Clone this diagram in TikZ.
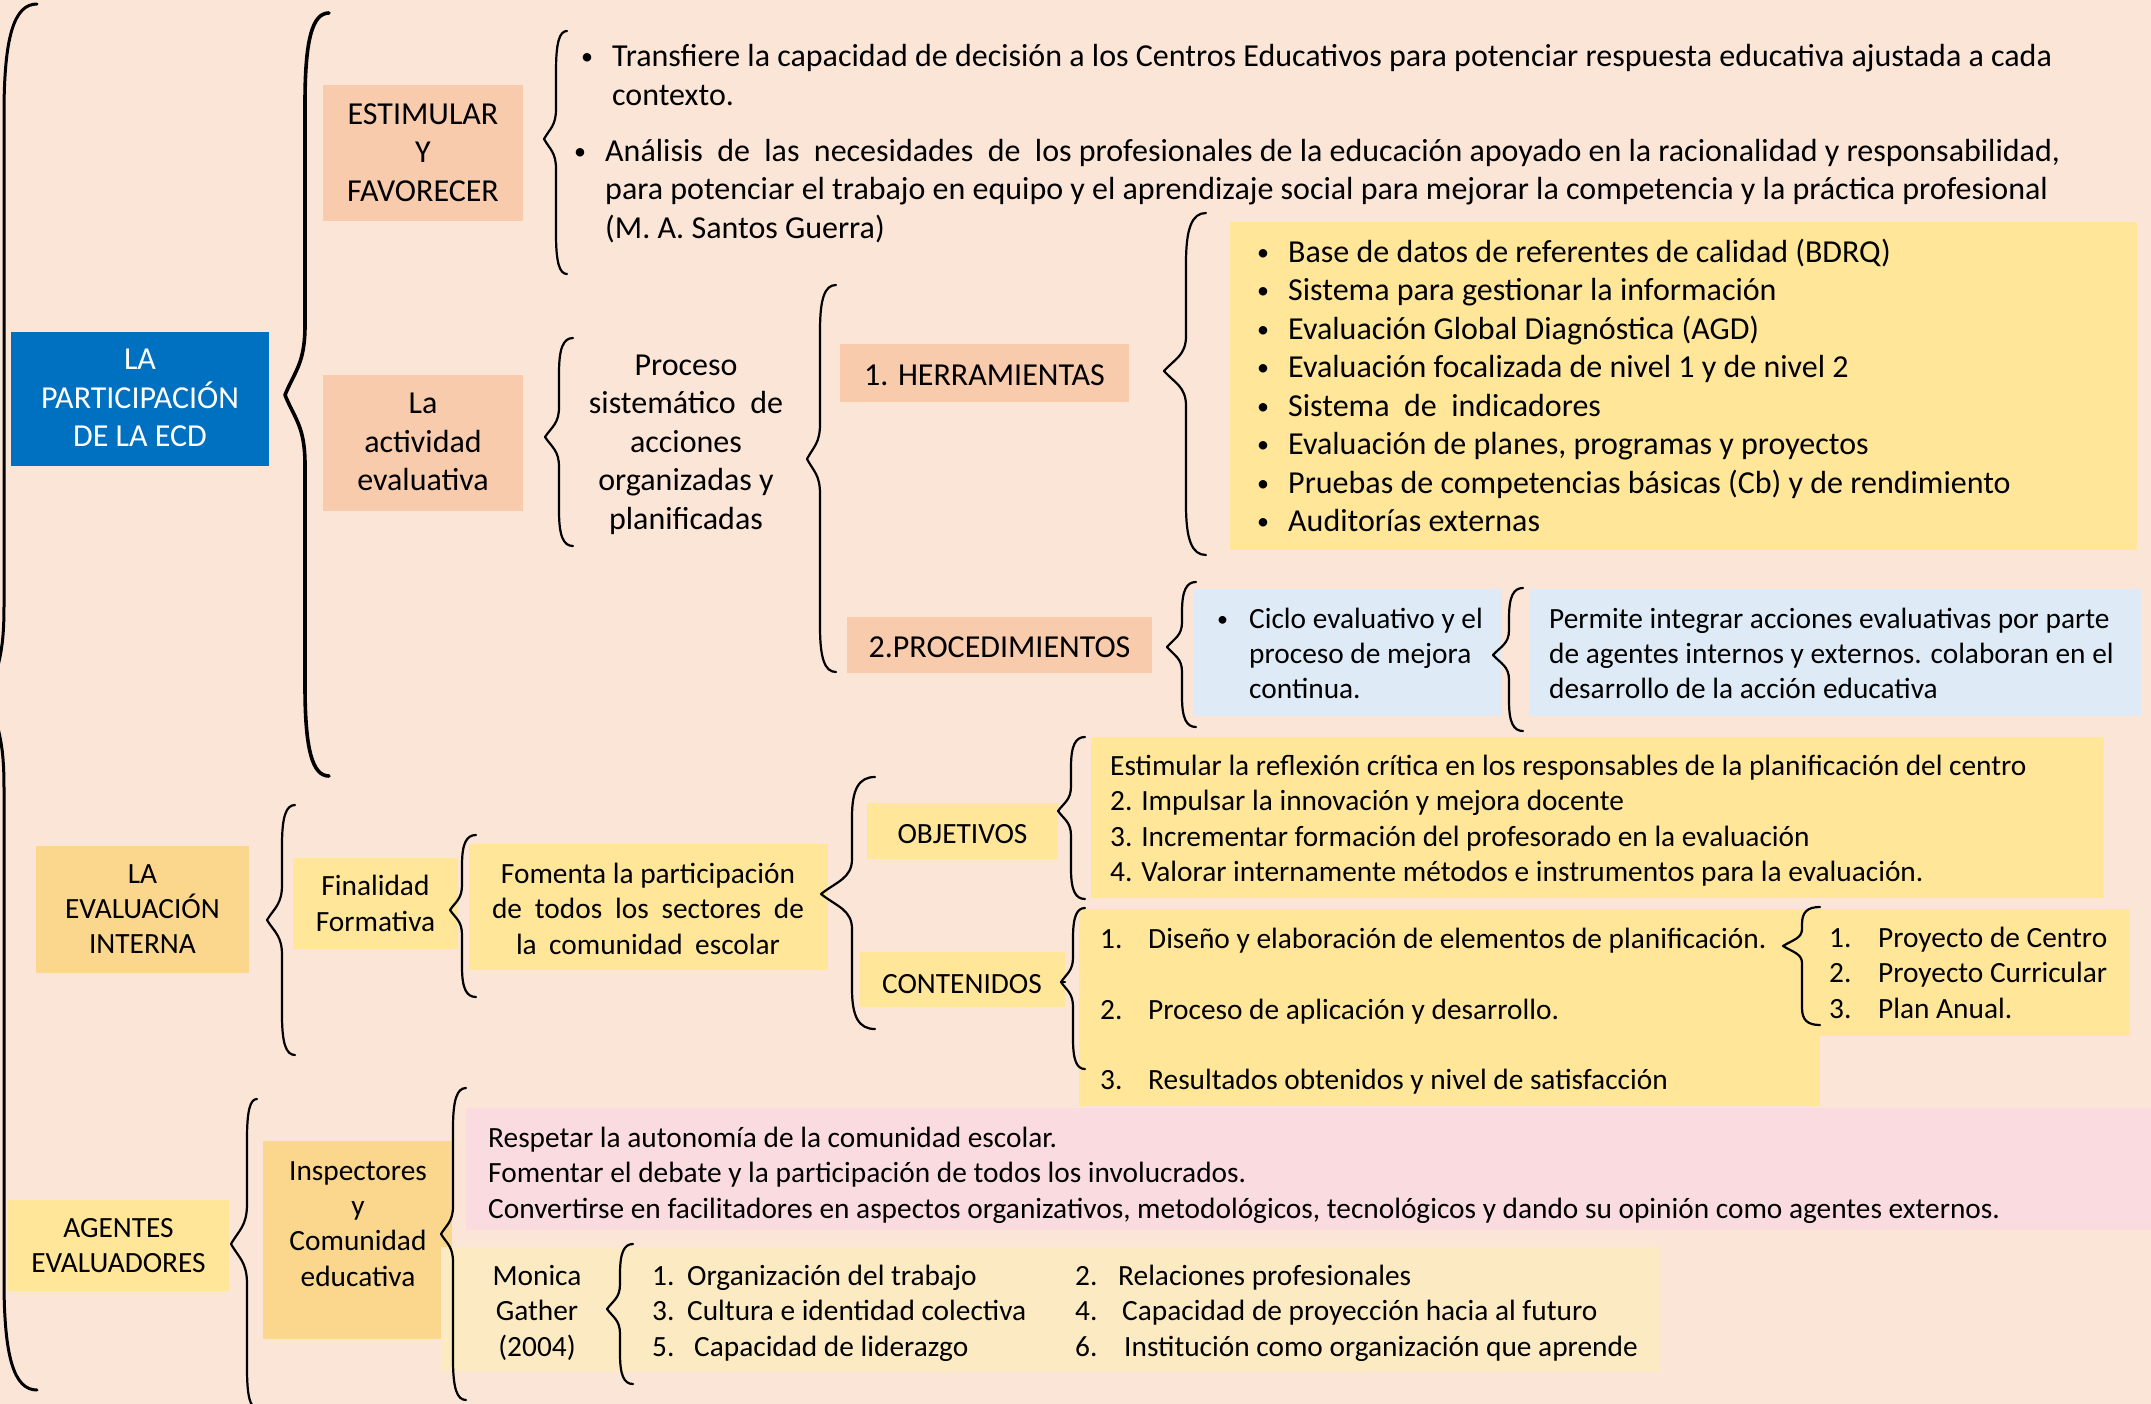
\documentclass[tikz,border=0pt]{standalone}
\usepackage{fontspec}
\usepackage{graphicx}
\setmainfont{Carlito}
\definecolor{bg}{HTML}{FBE5D6}
\definecolor{peach}{HTML}{F8CBAD}
\definecolor{blueD}{HTML}{0070C0}
\definecolor{yel}{HTML}{FFE699}
\definecolor{gold}{HTML}{FBD78E}
\definecolor{lblue}{HTML}{DEEBF7}
\definecolor{pinkb}{HTML}{FADBE0}
\definecolor{cream}{HTML}{FCEBC2}
\newcommand\FontL{\fontsize{32pt}{38.5pt}\selectfont}
\newcommand\FontS{\fontsize{29.35pt}{35.3pt}\selectfont}
\newcommand\bdot{\raisebox{2pt}{\scalebox{0.75}{•}}}
\newcommand\bulL{\makebox[31pt][l]{\bdot}}
\newcommand\bulS{\makebox[32pt][l]{\bdot}}
\newcommand\numb[2]{\makebox[#1pt][l]{#2}}
% brace: [opts]{x ends}{x straight}{x tip}{y top}{y tip}{y bottom}{end curve}{tip curve}
\newcommand\cbr[9][]{%
  \pgfmathsetmacro\bxr{#2}\pgfmathsetmacro\bxm{#3}\pgfmathsetmacro\bxt{#4}%
  \pgfmathsetmacro\byt{#5}\pgfmathsetmacro\byp{#6}\pgfmathsetmacro\byb{#7}%
  \pgfmathsetmacro\bre{#8}\pgfmathsetmacro\brt{#9}%
  \draw[brc,#1] (\bxr,\byt) .. controls ({\bxm+0.3*(\bxr-\bxm)},\byt) and (\bxm,{\byt+0.3*\bre}) .. (\bxm,{\byt+\bre})
    -- (\bxm,{\byp-\brt}) .. controls (\bxm,{\byp-0.45*\brt}) and ({\bxm-0.5*(\bxm-\bxt)},{\byp-0.35*\brt}) .. (\bxt,\byp)
    .. controls ({\bxm-0.5*(\bxm-\bxt)},{\byp+0.35*\brt}) and (\bxm,{\byp+0.45*\brt}) .. (\bxm,{\byp+\brt})
    -- (\bxm,{\byb-\bre}) .. controls (\bxm,{\byb-0.3*\bre}) and ({\bxm+0.3*(\bxr-\bxm)},\byb) .. (\bxr,\byb);%
}
\begin{document}
\begin{tikzpicture}[x=1pt,y=-1pt,
  boxn/.style={inner sep=0pt,outer sep=0pt,anchor=north west,draw=none},
  tl/.style={inner sep=0pt,align=center,font=\FontL,yshift=-5pt,execute at begin node=\strut,execute at end node=\strut},
  ts/.style={tl,font=\FontS},
  ll/.style={tl,align=left,anchor=west},
  ls/.style={ts,align=left,anchor=west},
  brc/.style={line width=2.2pt,line cap=round,line join=round}]
\fill[bg] (0,0) rectangle (2151,1404);
\useasboundingbox (0,0) rectangle (2151,1404);
% ---------- boxes ----------
\node[boxn,fill=blueD,minimum width=258pt,minimum height=134pt] (ecdBox) at (11,332) {};
\node[boxn,fill=peach,minimum width=200pt,minimum height=136pt] (estBox) at (323,85) {};
\node[boxn,fill=peach,minimum width=200pt,minimum height=136pt] (actBox) at (323,375) {};
\node[boxn,fill=peach,minimum width=289pt,minimum height=58pt] (herBox) at (840,344) {};
\node[boxn,fill=peach,minimum width=305pt,minimum height=56pt] (prcBox) at (847,617) {};
\node[boxn,fill=yel,minimum width=907pt,minimum height=328pt] (toolBox) at (1230,222) {};
\node[boxn,fill=lblue,minimum width=309pt,minimum height=127pt] (cicBox) at (1193,589) {};
\node[boxn,fill=lblue,minimum width=612pt,minimum height=127pt] (perBox) at (1529,589) {};
\node[boxn,fill=gold,minimum width=213pt,minimum height=127pt] (eiBox) at (36,846) {};
\node[boxn,fill=yel,minimum width=165pt,minimum height=91pt] (finBox) at (293,858) {};
\node[boxn,fill=yel,minimum width=359pt,minimum height=126pt] (fomBox) at (469,844) {};
\node[boxn,fill=yel,minimum width=191pt,minimum height=56pt] (objBox) at (867,803) {};
\node[boxn,fill=yel,minimum width=205pt,minimum height=55pt] (conBox) at (860,952) {};
\node[boxn,fill=yel,minimum width=1013pt,minimum height=161pt] (estiBox) at (1091,737) {};
\node[boxn,fill=yel,minimum width=741pt,minimum height=197pt] (disBox) at (1079,909) {};
\node[boxn,fill=yel,minimum width=310pt,minimum height=127pt] (proBox) at (1820,909) {};
\node[boxn,fill=yel,minimum width=221pt,minimum height=91pt] (agBox) at (8,1200) {};
\node[boxn,fill=gold,minimum width=189pt,minimum height=198pt] (insBox) at (263,1141) {};
\node[boxn,fill=pinkb,minimum width=1685pt,minimum height=122pt] (pinkBox) at (466,1108) {};
\node[boxn,fill=cream,minimum width=1219pt,minimum height=125pt] (monBox) at (441,1247) {};
% ---------- braces ----------
\cbr[line width=3pt]{37}{4}{-10}{4}{697}{1390}{110}{90}
\cbr[line width=3.6pt]{329}{305}{285}{13}{395}{776}{90}{70}
\cbr{567}{556}{544}{31}{139}{274}{40}{30}
\cbr{573}{559}{545}{338}{437}{546}{35}{30}
\cbr{836}{820}{807}{285}{459}{672}{45}{35}
\cbr{1206}{1186}{1164}{213}{371}{555}{50}{35}
\cbr{1196}{1182}{1167}{582}{647}{727}{30}{25}
\cbr{1523}{1509}{1493}{588}{655}{731}{30}{25}
\cbr{295}{282}{267}{805}{920}{1055}{40}{35}
\cbr{476}{462}{450}{835}{910}{997}{30}{25}
\cbr{875}{852}{821}{777}{894}{1029}{40}{35}
\cbr{1085}{1071}{1058}{737}{811}{899}{30}{25}
\cbr{1085}{1073}{1061}{908}{982}{1069}{30}{25}
\coordinate (conTip) at (1061,982);
\draw[brc] (conTip) -- (conBox.east |- conTip);
\cbr{1820}{1802}{1783}{907}{946}{1025}{17}{17}
\cbr{257}{247}{231}{1099}{1244}{1408}{40}{40}
\cbr{466}{453}{441}{1088}{1234}{1400}{40}{28}
\cbr{633}{620}{607}{1244}{1309}{1384}{30}{25}
% ---------- texts ----------
\node[tl,text=white] (ecd) at (ecdBox.center) {LA\\PARTICIPACIÓN\\DE LA ECD};
\node[tl] (est) at (estBox.center) {ESTIMULAR\\Y\\FAVORECER};
\node[tl] (act) at (actBox.center) {La\\actividad\\evaluativa};
\node[ll] (p1) at (581,75.5) {\bulL Transfiere la capacidad de decisión a los Centros Educativos para potenciar respuesta educativa ajustada a cada\\\hspace*{31pt}contexto.};
\node[ll] (p2) at (574,189.5) {\bulL\makebox[1455pt][s]{Análisis\ \ de\ \ las\ \ necesidades\ \ de\ \ los profesionales de la educación apoyado en la racionalidad y responsabilidad,}\\\hspace*{31pt}para potenciar el trabajo en equipo y el aprendizaje social para mejorar la competencia y la práctica profesional\\\hspace*{31pt}(M. A. Santos Guerra)};
\node[tl] (proc) at (686,443) {Proceso\\sistemático\ \ de\\acciones\\organizadas y\\planificadas};
\node[tl] (her) at (herBox.center) {1. HERRAMIENTAS};
\node[tl] (prc) at (prcBox.center) {2.PROCEDIMIENTOS};
\node[ll] (tools) at (1257,386) {\bulL Base de datos de referentes de calidad (BDRQ)\\\bulL Sistema para gestionar la información\\\bulL Evaluación Global Diagnóstica (AGD)\\\bulL Evaluación focalizada de nivel 1 y de nivel 2\\\bulL Sistema\ \ de\ \ indicadores\\\bulL Evaluación de planes, programas y proyectos\\\bulL Pruebas de competencias básicas (Cb) y de rendimiento\\\bulL Auditorías externas};
\node[ls] (cic) at (1217,653.5) {\bulS Ciclo evaluativo y el\\\hspace*{32pt}proceso de mejora\\\hspace*{32pt}continua.};
\node[ls] (per) at (1549,653.5) {Permite integrar acciones evaluativas por parte\\de agentes internos y externos. colaboran en el\\desarrollo de la acción educativa};
\node[ts] (ei) at (eiBox.center) {LA\\EVALUACIÓN\\INTERNA};
\node[ts] (fin) at (finBox.center) {Finalidad\\Formativa};
\node[ts] (fom) at (648,909) {Fomenta la participación\\\makebox[312pt][s]{de todos los sectores de}\\\makebox[264pt][s]{la comunidad escolar}};
\node[ts] (obj) at (objBox.center) {OBJETIVOS};
\node[ts] (con) at (962,981) {CONTENIDOS};
\node[ls] (esti) at (1110,818.5) {Estimular la reflexión crítica en los responsables de la planificación del centro\\2. Impulsar la innovación y mejora docente\\3. Incrementar formación del profesorado en la evaluación\\4. Valorar internamente métodos e instrumentos para la evaluación.};
\node[ls] (dis) at (1100,1009.5) {\numb{48}{1.}Diseño y elaboración de elementos de planificación.\\[35.2pt]\numb{48}{2.}Proceso de aplicación y desarrollo.\\[35.2pt]\numb{48}{3.}Resultados obtenidos y nivel de satisfacción};
\node[ls] (pro) at (1829,973) {\numb{49}{1.}Proyecto de Centro\\\numb{49}{2.}Proyecto Curricular\\\numb{49}{3.}Plan Anual.};
\node[ts] (ag) at (agBox.center) {AGENTES\\EVALUADORES};
\node[ts] (ins) at (358,1224) {Inspectores\\y\\Comunidad\\educativa};
\node[ls] (pinkT) at (488,1173) {Respetar la autonomía de la comunidad escolar.\\Fomentar el debate y la participación de todos los involucrados.\\Convertirse en facilitadores en aspectos organizativos, metodológicos, tecnológicos y dando su opinión como agentes externos.};
\node[ts] (mon) at (537,1311) {Monica\\Gather\\(2004)};
\node[ls] (c1) at (652,1311) {\numb{35}{1.}Organización del trabajo\\\numb{35}{3.}Cultura e identidad colectiva\\\numb{42}{5.}Capacidad de liderazgo};
\node[ls] (c2) at (1075,1311) {\numb{43}{2.}Relaciones profesionales\\\numb{47}{4.}Capacidad de proyección hacia al futuro\\\numb{49}{6.}Institución como organización que aprende};
\end{tikzpicture}
\end{document}
